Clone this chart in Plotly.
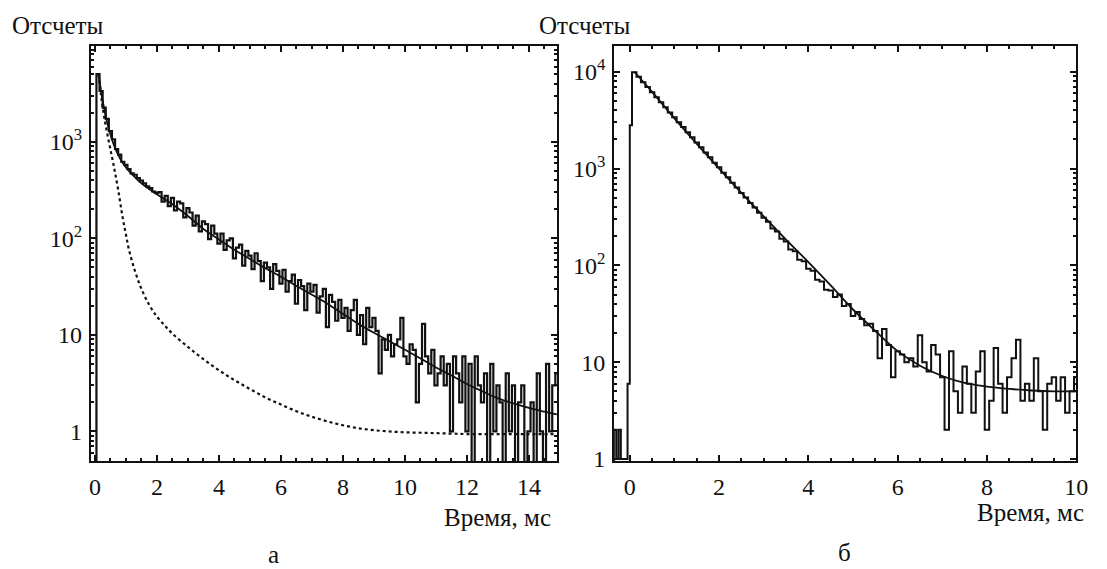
import numpy as np
import plotly.graph_objects as go

# ---------------- data: panel (a) ----------------
a_bin_start = 0.05      # ms, left edge of first bin
a_bin_width = 0.1       # ms
a_counts = [
    5000, 3350, 2250, 1720, 1290, 1060, 840, 735, 620, 575,
    520, 470, 455, 420, 395, 370, 345, 330, 305, 295,
    300, 240, 275, 215, 262, 195, 240, 230, 165, 205,
    185, 135, 172, 118, 150, 140, 98, 135, 112, 88,
    112, 76, 95, 100, 62, 80, 86, 52, 74, 66,
    48, 70, 58, 36, 56, 50, 30, 54, 46, 34,
    47, 28, 36, 42, 21, 37, 32, 18, 34, 28,
    33, 17, 25, 30, 12, 26, 22, 14, 23, 15,
    19, 11, 18, 23, 10, 16, 8, 19, 12, 15,
    11, 4, 9, 7, 10, 6, 8, 9, 15, 6,
    5, 8, 7, 2, 5, 13, 6, 4, 7, 3,
    4, 6, 3, 5, 1, 6, 4, 2, 6, 1,
    5, 0, 6, 3, 2, 4, 0, 5, 1, 3,
    2, 0, 4, 1, 3, 0, 2, 3, 0, 1,
    2, 0, 4, 1, 0, 5, 1, 3, 4,
]
a_fit_t = [0.12, 0.2, 0.3, 0.45, 0.6, 0.8, 1.0, 1.2, 1.5, 2.0, 2.5, 3.0, 3.5, 4.0,
           4.5, 5.0, 5.5, 6.0, 6.5, 7.0, 7.5, 8.0, 8.5, 9.0, 9.5, 10.0, 10.5, 11.0,
           11.5, 12.0, 12.5, 13.0, 13.5, 14.0, 14.5, 14.9]
a_fit_v = [5000, 3300, 2200, 1350, 950, 680, 540, 460, 370, 285, 225, 170, 125, 97,
           76, 61, 49, 40, 32, 26, 21, 16.5, 13, 10.5, 8.6, 7.0, 5.7, 4.6,
           3.8, 3.1, 2.6, 2.2, 1.95, 1.75, 1.6, 1.5]
a_dot_t = [0.12, 0.2, 0.3, 0.45, 0.6, 0.75, 0.9, 1.0, 1.1, 1.3, 1.5, 1.75, 2.0, 2.25,
           2.5, 3.0, 3.5, 4.0, 4.5, 5.0, 5.5, 6.0, 6.5, 7.0, 7.5, 8.0, 8.5, 9.0, 9.5,
           10.0, 10.5, 11.0, 11.5, 12.0, 13.0, 14.0, 14.85]
a_dot_v = [5000, 3000, 1800, 1000, 580, 320, 160, 110, 76, 45, 30, 20.5, 15.5, 12.5,
           10.3, 7.5, 5.6, 4.3, 3.4, 2.75, 2.25, 1.9, 1.62, 1.42, 1.27, 1.16, 1.08, 1.03, 1.0,
           0.98, 0.97, 0.96, 0.95, 0.94, 0.94, 0.94, 0.94]

# ---------------- data: panel (б) ----------------
b_pre_t = [-0.35, -0.30, -0.25, -0.20, -0.15, -0.10, -0.05, 0.0]
b_pre_counts = [2, 1, 2, 1, 1, 1, 6, 2800]
b_bin_start = 0.05
b_bin_width = 0.1
b_counts = [
    9900, 8900, 7800, 6950, 6150, 5450, 4850, 4300, 3800, 3380,
    3000, 2690, 2370, 2100, 1860, 1660, 1465, 1305, 1150, 1030,
    905, 812, 712, 638, 560, 503, 442, 396, 350, 311,
    282, 240, 224, 188, 176, 146, 140, 114, 110, 92,
    88, 71, 68, 56, 55, 47, 50, 38, 40, 30,
    33, 28, 24, 25, 21, 11, 22, 15, 7, 13,
    12, 10, 11, 9, 19, 10, 8, 15, 12, 7,
    2, 13, 5, 3, 9, 6, 3, 8, 13, 2,
    4, 14, 6, 3, 7, 11, 17, 4, 6, 4,
    11, 5, 2, 6, 7, 4, 7, 3, 5, 7,
]
b_fit_t = [0.1, 0.5, 1.0, 1.5, 2.0, 2.5, 3.0, 3.5, 4.0, 4.5, 5.0, 5.5, 6.0, 6.5,
           7.0, 7.5, 8.0, 8.5, 9.0, 9.5, 10.0]
b_fit_v = [10000, 6200, 3300, 1800, 1000, 560, 320, 185, 108, 62, 35, 21, 13, 9.2,
           7.2, 6.1, 5.6, 5.3, 5.1, 5.0, 5.0]

y_ticks_a = [1, 10, 100, 1000]
y_text_a = ["1", "10", "10<sup>2</sup>", "10<sup>3</sup>"]
y_ticks_b = [1, 10, 100, 1000, 10000]
y_text_b = ["1", "10", "10<sup>2</sup>", "10<sup>3</sup>", "10<sup>4</sup>"]
x_title = "Время, мс"
y_title = "Отсчеты"

FLOOR = 0.2  # zero-count bins drawn below the axis


def step_xy(start, width, counts, lead_x=None):
    xs = list(start + width * np.arange(len(counts) + 1))
    ys = [c if c > 0 else FLOOR for c in counts] + [counts[-1] if counts[-1] > 0 else FLOOR]
    if lead_x is not None:
        xs = [lead_x] + xs
        ys = [FLOOR] + ys
    return xs, ys


fig = go.Figure()
BLACK = "#111111"

# panel a
ax, ay = step_xy(a_bin_start, a_bin_width, a_counts, lead_x=-0.3)
fig.add_trace(go.Scatter(x=ax, y=ay, mode="lines", line=dict(color=BLACK, width=2.2, shape="hv"),
                         xaxis="x", yaxis="y", showlegend=False))
fig.add_trace(go.Scatter(x=a_dot_t, y=a_dot_v, mode="lines",
                         line=dict(color=BLACK, width=2.2, dash="dot", shape="spline"),
                         xaxis="x", yaxis="y", showlegend=False))
fig.add_trace(go.Scatter(x=a_fit_t, y=a_fit_v, mode="lines",
                         line=dict(color=BLACK, width=1.8, shape="spline"),
                         xaxis="x", yaxis="y", showlegend=False))

# panel b
bx_main, by_main = step_xy(b_bin_start, b_bin_width, b_counts)
bx = [-0.6] + b_pre_t + bx_main
by = [FLOOR] + b_pre_counts + by_main
fig.add_trace(go.Scatter(x=bx, y=by, mode="lines", line=dict(color=BLACK, width=2.0, shape="hv"),
                         xaxis="x2", yaxis="y2", showlegend=False))
fig.add_trace(go.Scatter(x=b_fit_t, y=b_fit_v, mode="lines",
                         line=dict(color=BLACK, width=1.8, shape="spline"),
                         xaxis="x2", yaxis="y2", showlegend=False))

FONT = "Times New Roman, Liberation Serif, DejaVu Serif, serif"
FS = 24
FS_T = 25
minor_log = [m * 10 ** e for e in range(-1, 5) for m in range(2, 10)]

common_x = dict(showline=True, linecolor=BLACK, linewidth=2, mirror="ticks",
                ticks="inside", ticklen=6, tickwidth=2, tickcolor=BLACK,
                dtick=2, tick0=0, showgrid=False, zeroline=False,
                ticklabelstandoff=3,
                minor=dict(ticks="inside", ticklen=3, tickwidth=1.5, tickcolor=BLACK,
                           dtick=0.5, tick0=0, showgrid=False),
                tickfont=dict(family=FONT, size=FS, color=BLACK))
common_y = dict(type="log", showline=True, linecolor=BLACK, linewidth=2, mirror="ticks",
                ticks="inside", ticklen=6, tickwidth=2, tickcolor=BLACK,
                showgrid=False, zeroline=False, tickmode="array",
                ticklabelstandoff=2,
                minor=dict(ticks="inside", ticklen=3, tickwidth=1.5, tickcolor=BLACK,
                           tickmode="array", tickvals=minor_log, showgrid=False),
                tickfont=dict(family=FONT, size=FS, color=BLACK))

fig.update_layout(
    width=1107, height=569,
    margin=dict(l=0, r=0, t=0, b=0),
    paper_bgcolor="white", plot_bgcolor="white",
    font=dict(family=FONT, size=FS, color=BLACK),
    xaxis=dict(domain=[90 / 1107, 562 / 1107], range=[-0.13, 14.9], anchor="y", **common_x),
    yaxis=dict(domain=[1 - 470 / 569, 1 - 47 / 569], range=[-0.305, 3.99], anchor="x",
               tickvals=y_ticks_a, ticktext=y_text_a, **common_y),
    xaxis2=dict(domain=[620 / 1107, 1088 / 1107], range=[-0.35, 10.0], anchor="y2", **common_x),
    yaxis2=dict(domain=[1 - 470 / 569, 1 - 47 / 569], range=[-0.02, 4.265], anchor="x2",
                tickvals=y_ticks_b, ticktext=y_text_b, **common_y),
)

annots = [
    dict(text=y_title, x=8 / 1107, y=1 - 26 / 569, xanchor="left", yanchor="middle"),
    dict(text=y_title, x=542 / 1107, y=1 - 26 / 569, xanchor="left", yanchor="middle"),
    dict(text=x_title, x=558 / 1107, y=1 - 528 / 569, xanchor="right", yanchor="middle"),
    dict(text=x_title, x=1098 / 1107, y=1 - 523 / 569, xanchor="right", yanchor="middle"),
    dict(text="а", x=275 / 1107, y=1 - 565 / 569, xanchor="center", yanchor="middle"),
    dict(text="б", x=853 / 1107, y=1 - 563 / 569, xanchor="center", yanchor="middle"),
]
for a in annots:
    fig.add_annotation(xref="paper", yref="paper", showarrow=False,
                       font=dict(family=FONT, size=FS_T, color=BLACK), **a)

fig.write_html("out.html")
